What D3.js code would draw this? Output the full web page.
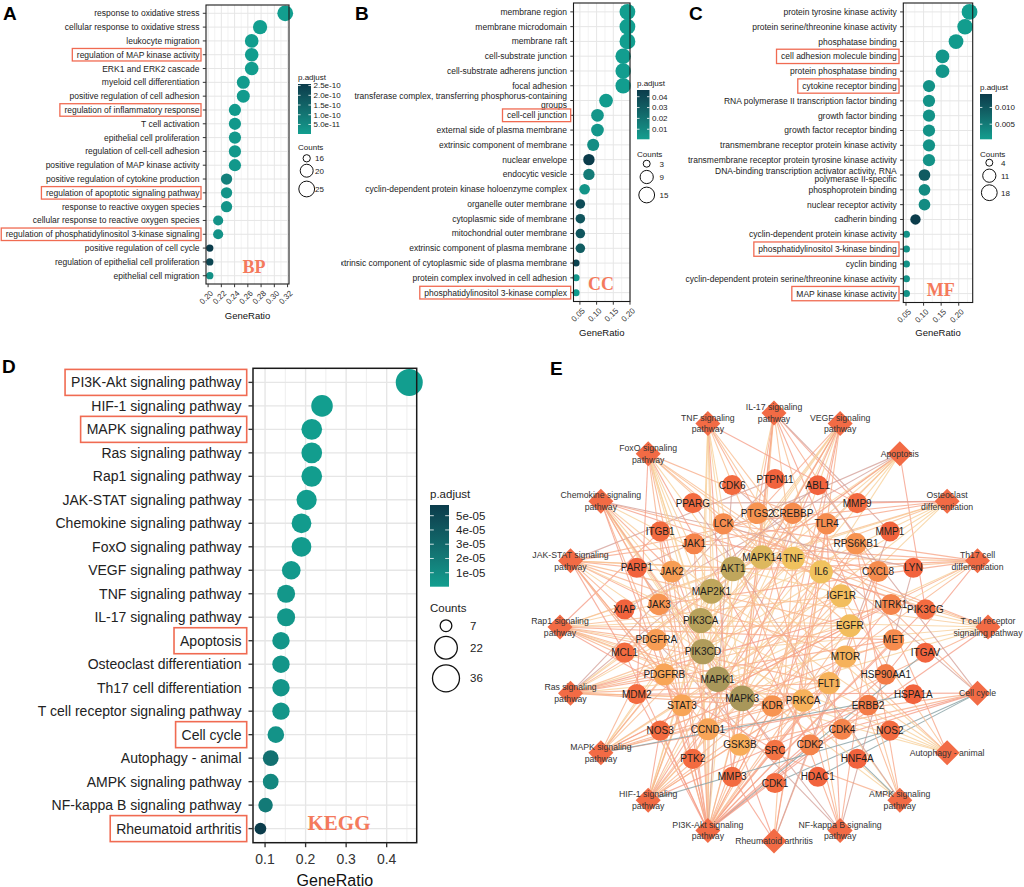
<!DOCTYPE html>
<html><head><meta charset="utf-8">
<script src="https://cdn.jsdelivr.net/npm/d3@7"></script>
<style>
body{margin:0;background:#fff}
svg{display:block}
</style></head>
<body><svg id="fig" width="1024" height="887" font-family="'Liberation Sans',Arial,Helvetica,sans-serif"></svg>
<script>
// ===================== DATA =====================
// BP
const bpTerms = ["response to oxidative stress","cellular response to oxidative stress","leukocyte migration","regulation of MAP kinase activity","ERK1 and ERK2 cascade","myeloid cell differentiation","positive regulation of cell adhesion","regulation of inflammatory response","T cell activation","epithelial cell proliferation","regulation of cell-cell adhesion","positive regulation of MAP kinase activity","positive regulation of cytokine production","regulation of apoptotic signaling pathway","response to reactive oxygen species","cellular response to reactive oxygen species","regulation of phosphatidylinositol 3-kinase signaling","positive regulation of cell cycle","regulation of epithelial cell proliferation","epithelial cell migration"];
const bpCounts = [25,22,21,21,21,20,20,19,19,19,19,19,18,18,18,17,17,16,16,16];
const bpPadj = [1e-12,2e-12,3e-12,3e-12,3e-12,8e-12,8e-12,1.2e-11,1.5e-11,1.5e-11,1.6e-11,1.6e-11,7.5e-11,2.5e-11,2.5e-11,3e-11,3e-11,2.58e-10,2.3e-10,3.5e-11];
const bpTotal = 79;
const bpBoxed = ["regulation of MAP kinase activity","regulation of inflammatory response","regulation of apoptotic signaling pathway","regulation of phosphatidylinositol 3-kinase signaling"];
const bpTicks = [0.20,0.22,0.24,0.26,0.28,0.30,0.32];
const bpPadjBreaks = [5e-11,1e-10,1.5e-10,2e-10,2.5e-10];
const bpCountBreaks = [16,20,25];

// CC
const ccTerms = ["membrane region","membrane microdomain","membrane raft","cell-substrate junction","cell-substrate adherens junction","focal adhesion","transferase complex, transferring phosphorus-containing groups","cell-cell junction","external side of plasma membrane","extrinsic component of membrane","nuclear envelope","endocytic vesicle","cyclin-dependent protein kinase holoenzyme complex","organelle outer membrane","cytoplasmic side of membrane","mitochondrial outer membrane","extrinsic component of plasma membrane","extrinsic component of cytoplasmic side of plasma membrane","protein complex involved in cell adhesion","phosphatidylinositol 3-kinase complex"];
const ccCounts = [15,15,15,14,14,14,10,8,8,7,6,6,5,4,4,4,4,3,3,3];
const ccPadj = [0.0007,0.0008,0.0008,0.001,0.001,0.001,0.002,0.004,0.004,0.008,0.0462,0.016,0.005,0.038,0.034,0.034,0.030,0.042,0.004,0.002];
const ccTotal = 78;
const ccBoxed = ["cell-cell junction","phosphatidylinositol 3-kinase complex"];
const ccTicks = [0.05,0.10,0.15,0.20];
const ccPadjBreaks = [0.01,0.02,0.03,0.04];
const ccCountBreaks = [3,9,15];

// MF
const mfTerms = ["protein tyrosine kinase activity","protein serine/threonine kinase activity","phosphatase binding","cell adhesion molecule binding","protein phosphatase binding","cytokine receptor binding","RNA polymerase II transcription factor binding","growth factor binding","growth factor receptor binding","transmembrane receptor protein kinase activity","transmembrane receptor protein tyrosine kinase activity","DNA-binding transcription activator activity, RNA polymerase II-specific","phosphoprotein binding","nuclear receptor activity","cadherin binding","cyclin-dependent protein kinase activity","phosphatidylinositol 3-kinase binding","cyclin binding","cyclin-dependent protein serine/threonine kinase activity","MAP kinase kinase activity"];
const mfCounts = [18,17,15,12,12,9,9,9,9,9,9,8,8,8,6,4,4,4,4,4];
const mfPadj = [0.0005,0.0006,0.001,0.0015,0.0015,0.002,0.002,0.002,0.002,0.002,0.002,0.0095,0.003,0.003,0.014,0.002,0.002,0.002,0.002,0.002];
const mfTotal = 78;
const mfBoxed = ["cell adhesion molecule binding","cytokine receptor binding","phosphatidylinositol 3-kinase binding","MAP kinase kinase activity"];
const mfTicks = [0.05,0.10,0.15,0.20];
const mfPadjBreaks = [0.005,0.010];
const mfCountBreaks = [4,11,18];

// KEGG
const keggTerms = ["PI3K-Akt signaling pathway","HIF-1 signaling pathway","MAPK signaling pathway","Ras signaling pathway","Rap1 signaling pathway","JAK-STAT signaling pathway","Chemokine signaling pathway","FoxO signaling pathway","VEGF signaling pathway","TNF signaling pathway","IL-17 signaling pathway","Apoptosis","Osteoclast differentiation","Th17 cell differentiation","T cell receptor signaling pathway","Cell cycle","Autophagy - animal","AMPK signaling pathway","NF-kappa B signaling pathway","Rheumatoid arthritis"];
const keggCounts = [36,19,17,17,17,16,15,15,13,12,12,11,11,11,11,10,9,9,8,7];
const keggPadj = [2e-7,3e-7,1e-6,1e-6,1e-6,1e-6,2e-6,2e-6,3e-6,4e-6,4e-6,5e-6,5e-6,5e-6,5e-6,6e-6,2.6e-5,1.3e-5,2e-5,5.75e-5];
const keggTotal = 79;
const keggBoxed = ["PI3K-Akt signaling pathway","MAPK signaling pathway","Apoptosis","Cell cycle","Rheumatoid arthritis"];
const keggTicks = [0.1,0.2,0.3,0.4];
const keggPadjBreaks = [1e-5,2e-5,3e-5,4e-5,5e-5];
const keggCountBreaks = [7,22,36];

// Network (E)
const pathways = ["IL-17 signaling pathway","VEGF signaling pathway","Apoptosis","Osteoclast differentiation","Th17 cell differentiation","T cell receptor signaling pathway","Cell cycle","Autophagy - animal","AMPK signaling pathway","NF-kappa B signaling pathway","Rheumatoid arthritis","PI3K-Akt signaling pathway","HIF-1 signaling pathway","MAPK signaling pathway","Ras signaling pathway","Rap1 signaling pathway","JAK-STAT signaling pathway","Chemokine signaling pathway","FoxO signaling pathway","TNF signaling pathway"];
const pathwayLabels = [["IL-17 signaling","pathway"],["VEGF signaling","pathway"],["Apoptosis"],["Osteoclast","differentiation"],["Th17 cell","differentiation"],["T cell receptor","signaling pathway"],["Cell cycle"],["Autophagy - animal"],["AMPK signaling","pathway"],["NF-kappa B signaling","pathway"],["Rheumatoid arthritis"],["PI3K-Akt signaling","pathway"],["HIF-1 signaling","pathway"],["MAPK signaling","pathway"],["Ras signaling","pathway"],["Rap1 signaling","pathway"],["JAK-STAT signaling","pathway"],["Chemokine signaling","pathway"],["FoxO signaling","pathway"],["TNF signaling","pathway"]];
const pathwayGenes = [
 ["MAPK1","MAPK3","MAPK14","TNF","IL6","CXCL8","PTGS2","MMP9","MMP3","MMP1","HSP90AA1","GSK3B"],
 ["AKT1","PIK3CA","PIK3CD","MAPK1","MAPK3","MAP2K1","MAPK14","KDR","PRKCA","PTGS2","NOS3","SRC","PTK2"],
 ["AKT1","PIK3CA","PIK3CD","MAPK1","MAPK3","MAP2K1","TNF","XIAP","MCL1","PARP1","PIK3CG"],
 ["AKT1","PIK3CA","PIK3CD","MAPK1","MAPK3","MAPK14","TNF","JAK1","LCK","PPARG","MMP9"],
 ["MAPK1","MAPK3","MAPK14","JAK1","JAK2","JAK3","STAT3","IL6","LCK","MTOR","HSP90AA1"],
 ["AKT1","PIK3CA","PIK3CD","MAPK1","MAPK3","MAP2K1","MAPK14","TNF","LCK","GSK3B","CDK4"],
 ["CDK1","CDK2","CDK4","CDK6","CCND1","GSK3B","HDAC1","CREBBP","ABL1","MDM2"],
 ["AKT1","PIK3CA","PIK3CD","MAPK1","MAPK3","MAP2K1","MTOR","RPS6KB1","IGF1R"],
 ["AKT1","PIK3CA","PIK3CD","MTOR","RPS6KB1","IGF1R","CCND1","PPARG","HNF4A"],
 ["TNF","CXCL8","PTGS2","XIAP","LYN","LCK","TLR4","PARP1"],
 ["TNF","IL6","CXCL8","MMP1","MMP3","TLR4","ITGB1"],
 ["AKT1","PIK3CA","PIK3CD","PIK3CG","MAPK1","MAPK3","MAP2K1","MTOR","EGFR","IGF1R","KDR","FLT1","PDGFRA","PDGFRB","MET","ERBB2","NTRK1","ITGB1","ITGAV","PTK2","JAK1","JAK2","JAK3","IL6","CCND1","CDK4","CDK6","CDK2","GSK3B","MCL1","MDM2","RPS6KB1","HSP90AA1","PRKCA","CREBBP","NOS3"],
 ["AKT1","PIK3CA","PIK3CD","MAPK1","MAPK3","MAP2K1","MTOR","EGFR","IGF1R","ERBB2","FLT1","IL6","STAT3","CREBBP","NOS2","NOS3","PRKCA","RPS6KB1","TLR4"],
 ["AKT1","MAPK1","MAPK3","MAP2K1","MAPK14","TNF","EGFR","IGF1R","KDR","FLT1","PDGFRA","PDGFRB","MET","ERBB2","NTRK1","PRKCA","HSPA1A"],
 ["AKT1","PIK3CA","PIK3CD","MAPK1","MAPK3","MAP2K1","EGFR","IGF1R","KDR","FLT1","PDGFRA","PDGFRB","MET","NTRK1","PRKCA","PTPN11","ABL1"],
 ["AKT1","PIK3CA","PIK3CD","MAPK1","MAPK3","MAP2K1","MAPK14","EGFR","IGF1R","KDR","FLT1","PDGFRA","PDGFRB","MET","PRKCA","ITGB1","SRC"],
 ["AKT1","PIK3CA","PIK3CD","MTOR","JAK1","JAK2","JAK3","STAT3","IL6","EGFR","PDGFRA","PDGFRB","CCND1","MCL1","PTPN11","CREBBP"],
 ["AKT1","PIK3CA","PIK3CD","PIK3CG","MAPK1","MAPK3","MAP2K1","JAK2","JAK3","STAT3","CXCL8","LYN","PTK2","GSK3B","SRC"],
 ["AKT1","PIK3CA","PIK3CD","MAPK1","MAPK3","MAP2K1","MAPK14","EGFR","IGF1R","CCND1","CDK2","MDM2","CREBBP","STAT3","IL6"],
 ["AKT1","PIK3CA","PIK3CD","MAPK1","MAPK3","MAPK14","TNF","IL6","PTGS2","MMP9","MMP3","MAP2K1"]
];
// concentric rings of genes (inner -> outer), ordered clockwise
const ringInner = ["TNF","IL6","IGF1R","EGFR","MTOR","FLT1","PRKCA","KDR","MAPK3","MAPK1","PIK3CD","PIK3CA","MAP2K1","AKT1","MAPK14"];
const ringInnerDegree = [19,19,18,18,16,16,16,12,29,29,28,27,26,26,22];
const ringMiddle = ["CREBBP","TLR4","RPS6KB1","CXCL8","NTRK1","MET","HSP90AA1","ERBB2","CDK4","CDK2","SRC","GSK3B","CCND1","STAT3","PDGFRB","PDGFRA","JAK3","JAK2","JAK1","LCK","PTGS2"];
const ringMiddleDegree = [11,11,12,11,10,11,9,9,10,10,8,15,14,14,14,13,12,13,10,11,12];
const ringOuter = ["PTPN11","ABL1","MMP9","MMP1","LYN","PIK3CG","ITGAV","HSPA1A","NOS2","HNF4A","HDAC1","CDK1","MMP3","PTK2","NOS3","MDM2","MCL1","XIAP","PARP1","ITGB1","PPARG","CDK6"];
const ringOuterDegree = [6,6,7,6,6,7,6,6,7,6,6,7,7,7,7,7,7,6,6,7,7,7];

// ===================== DRAWING =====================
const svg = d3.select("#fig");
const defs = svg.append("defs");
const lowCol = "#129e8f", highCol = "#0b3c4b";
const boxCol = "#f06b52", tagCol = "#f47a5c";

function wrapLabel(s, width) {
  const words = s.split(" "); const lines = []; let cur = "";
  words.forEach(w => {
    if (cur && (cur + " " + w).length > width) { lines.push(cur); cur = w; }
    else cur = cur ? cur + " " + w : w;
  });
  lines.push(cur); return lines;
}

function dotPlot(o) {
  const g = svg.append("g");
  if (o.clipLeft != null) {
    const id = "clip" + o.id;
    defs.append("clipPath").attr("id", id).append("rect")
      .attr("x", o.clipLeft).attr("y", 0).attr("width", 1024 - o.clipLeft).attr("height", 887);
    g.attr("clip-path", `url(#${id})`);
  }
  const ratios = o.counts.map(c => c / o.total);
  const [rmin, rmax] = d3.extent(ratios);
  const span = rmax - rmin;
  const x = d3.scaleLinear().domain([rmin - 0.05 * span, rmax + 0.05 * span]).range([o.x0, o.x1]);
  const y = d3.scalePoint().domain(o.terms).range([o.y0, o.y1]).padding(0.6);
  const [pmin, pmax] = d3.extent(o.padj);
  const col = d3.scaleLinear().domain([pmin, pmax]).range([lowCol, highCol]).interpolate(d3.interpolateLab);
  const [cmin, cmax] = d3.extent(o.counts);
  const rad = c => (o.dRange[0] + Math.sqrt((c - cmin) / (cmax - cmin)) * (o.dRange[1] - o.dRange[0])) / 2;

  g.append("rect").attr("x", o.x0).attr("y", o.y0).attr("width", o.x1 - o.x0).attr("height", o.y1 - o.y0).attr("fill", "#fff");
  const [d0, d1] = x.domain();
  const minorVals = [];
  for (let k = Math.ceil(d0 / o.minorStep - 1e-9); k * o.minorStep <= d1 + 1e-12; k++) minorVals.push(k * o.minorStep);
  const isMajor = v => o.ticks.some(t => Math.abs(t - v) < 1e-9);
  g.selectAll(null).data(minorVals.filter(v => !isMajor(v))).join("line")
    .attr("x1", d => x(d)).attr("x2", d => x(d)).attr("y1", o.y0).attr("y2", o.y1)
    .attr("stroke", "#eeeeee").attr("stroke-width", o.gridW * 0.7);
  g.selectAll(null).data(o.ticks).join("line")
    .attr("x1", d => x(d)).attr("x2", d => x(d)).attr("y1", o.y0).attr("y2", o.y1)
    .attr("stroke", "#e6e6e6").attr("stroke-width", o.gridW);
  g.selectAll(null).data(o.terms).join("line")
    .attr("x1", o.x0).attr("x2", o.x1).attr("y1", d => y(d)).attr("y2", d => y(d))
    .attr("stroke", "#e6e6e6").attr("stroke-width", o.gridW);

  g.selectAll(null).data(o.terms.map((t, i) => ({t, c: o.counts[i], p: o.padj[i], r: ratios[i]})))
    .join("circle")
    .attr("cx", d => x(d.r)).attr("cy", d => y(d.t)).attr("r", d => rad(d.c))
    .attr("fill", d => col(d.p));

  g.append("rect").attr("x", o.x0).attr("y", o.y0).attr("width", o.x1 - o.x0).attr("height", o.y1 - o.y0)
    .attr("fill", "none").attr("stroke", "#1a1a1a").attr("stroke-width", o.borderW);

  g.selectAll(null).data(o.terms).join("line")
    .attr("x1", o.x0 - o.tickLen).attr("x2", o.x0).attr("y1", d => y(d)).attr("y2", d => y(d))
    .attr("stroke", "#333").attr("stroke-width", o.borderW * 0.9);
  o.terms.forEach(t => {
    const lines = wrapLabel(t, 59);
    const txt = g.append("text").attr("text-anchor", "end").attr("font-size", o.labelFont).attr("fill", "#222");
    const lh = o.labelFont * 1.0;
    lines.forEach((ln, i) => {
      txt.append("tspan").attr("x", o.x0 - o.labelGap)
        .attr("y", y(t) + (i - (lines.length - 1) / 2) * lh + 0.35 * o.labelFont).text(ln);
    });
    if (o.boxed.includes(t)) {
      const w = d3.max(txt.selectAll("tspan").nodes(), n => n.getComputedTextLength());
      const left = o.x0 - o.labelGap - w - o.boxPad;
      const right = o.x0 - o.boxRightOff;
      g.append("rect").attr("x", left).attr("y", y(t) - o.boxH / 2).attr("width", right - left).attr("height", o.boxH)
        .attr("fill", "none").attr("stroke", boxCol).attr("stroke-width", o.boxW);
    }
  });

  g.selectAll(null).data(o.ticks).join("line")
    .attr("x1", d => x(d)).attr("x2", d => x(d)).attr("y1", o.y1).attr("y2", o.y1 + o.tickLen)
    .attr("stroke", "#333").attr("stroke-width", o.borderW * 0.9);
  const fmtT = d3.format(o.tickFmt);
  if (o.rotate) {
    g.selectAll(null).data(o.ticks).join("text")
      .attr("transform", d => `translate(${x(d) + 1.5},${o.y1 + o.tickLen + 2.5}) rotate(-45)`)
      .attr("text-anchor", "end").attr("dy", "0.72em").attr("font-size", o.tickFont).attr("fill", "#333")
      .text(d => fmtT(d));
  } else {
    g.selectAll(null).data(o.ticks).join("text")
      .attr("x", d => x(d)).attr("y", o.tickLabelY).attr("text-anchor", "middle")
      .attr("font-size", o.tickFont).attr("fill", "#333").text(d => fmtT(d));
  }
  g.append("text").attr("x", (o.x0 + o.x1) / 2).attr("y", o.titleY).attr("text-anchor", "middle")
    .attr("font-size", o.titleFont).attr("fill", "#111").text("GeneRatio");

  g.append("text").attr("x", o.tag.x).attr("y", o.tag.y).attr("text-anchor", "middle")
    .style("font-family", "'Liberation Serif','Times New Roman',Times,serif").attr("font-weight", "bold")
    .attr("font-size", o.tag.size).attr("fill", tagCol).text(o.tag.text);

  const L = o.leg;
  const lg = svg.append("g");
  lg.append("text").attr("x", L.x).attr("y", L.titleY).attr("font-size", L.font).attr("fill", "#222").text("p.adjust");
  const gid = "grad" + o.id;
  const grad = defs.append("linearGradient").attr("id", gid).attr("x1", 0).attr("x2", 0).attr("y1", 1).attr("y2", 0);
  d3.range(0, 1.0001, 0.1).forEach(t => grad.append("stop").attr("offset", t).attr("stop-color", col(pmin + t * (pmax - pmin))));
  lg.append("rect").attr("x", L.x).attr("y", L.barY0).attr("width", L.barW).attr("height", L.barY1 - L.barY0).attr("fill", `url(#${gid})`);
  const by = d3.scaleLinear().domain([pmin, pmax]).range([L.barY1, L.barY0]);
  o.padjBreaks.forEach(b => {
    const yy = by(b);
    lg.append("line").attr("x1", L.x).attr("x2", L.x + L.barW / 5).attr("y1", yy).attr("y2", yy).attr("stroke", "#fff").attr("stroke-width", 0.8);
    lg.append("line").attr("x1", L.x + L.barW * 4 / 5).attr("x2", L.x + L.barW).attr("y1", yy).attr("y2", yy).attr("stroke", "#fff").attr("stroke-width", 0.8);
    lg.append("text").attr("x", L.labelX).attr("y", yy + 0.35 * L.font).attr("font-size", L.font).attr("fill", "#222").text(o.padjFmt(b));
  });
  lg.append("text").attr("x", L.x).attr("y", L.countTitleY).attr("font-size", L.font).attr("fill", "#222").text("Counts");
  o.countBreaks.forEach((c, i) => {
    lg.append("circle").attr("cx", L.circleX).attr("cy", L.keyY[i]).attr("r", rad(c))
      .attr("fill", "#fff").attr("stroke", "#111").attr("stroke-width", L.circW);
    lg.append("text").attr("x", L.keyLabelX).attr("y", L.keyY[i] + 0.35 * L.font).attr("font-size", L.font).attr("fill", "#222").text(c);
  });
}

const expFmt1 = v => v.toExponential(1);
const expFmt0 = v => { const [m, e] = v.toExponential(0).split("e"); const n = Math.abs(+e); return m + "e" + (+e < 0 ? "-" : "+") + (n < 10 ? "0" + n : n); };

const smallCommon = {labelFont: 8.5, tickFont: 8, titleFont: 9.5, labelGap: 6.5, tickLen: 3.2, gridW: 1, borderW: 1.1, boxW: 1.3, rotate: true, tickFmt: ".2f"};

dotPlot(Object.assign({}, smallCommon, {
  id: "A", terms: bpTerms, counts: bpCounts, padj: bpPadj, total: bpTotal, boxed: bpBoxed,
  x0: 206, x1: 289, y0: 5, y1: 284, ticks: bpTicks, minorStep: 0.01, titleY: 318.5,
  dRange: [7.3, 15.8], boxH: 12.5, boxPad: 4.5, boxRightOff: 5,
  padjBreaks: bpPadjBreaks, padjFmt: expFmt1, countBreaks: bpCountBreaks,
  tag: {text: "BP", x: 254, y: 273, size: 18},
  leg: {x: 298, titleY: 79.5, font: 8, barY0: 84, barY1: 134, barW: 13, labelX: 313.5, countTitleY: 150, keyY: [158.3, 170.7, 189], circleX: 306.7, keyLabelX: 315, circW: 1}
}));
dotPlot(Object.assign({}, smallCommon, {
  id: "B", terms: ccTerms, counts: ccCounts, padj: ccPadj, total: ccTotal, boxed: ccBoxed, clipLeft: 341,
  x0: 573.5, x1: 630, y0: 3, y1: 301.5, ticks: ccTicks, minorStep: 0.025, titleY: 335.5,
  dRange: [7, 15.8], boxH: 12.7, boxPad: 4.5, boxRightOff: 2.8,
  padjBreaks: ccPadjBreaks, padjFmt: d3.format(".2f"), countBreaks: ccCountBreaks,
  tag: {text: "CC", x: 601, y: 290, size: 18},
  leg: {x: 637, titleY: 86, font: 8, barY0: 90, barY1: 139.3, barW: 12.5, labelX: 652, countTitleY: 156.5, keyY: [163.7, 177, 195], circleX: 646.7, keyLabelX: 659.5, circW: 1}
}));
dotPlot(Object.assign({}, smallCommon, {
  id: "C", terms: mfTerms, counts: mfCounts, padj: mfPadj, total: mfTotal, boxed: mfBoxed,
  x0: 903.3, x1: 972.7, y0: 3, y1: 302.5, ticks: mfTicks, minorStep: 0.025, titleY: 335.5,
  dRange: [7, 15.8], boxH: 14.3, boxPad: 4.5, boxRightOff: 4.3,
  padjBreaks: mfPadjBreaks, padjFmt: d3.format(".3f"), countBreaks: mfCountBreaks,
  tag: {text: "MF", x: 940.7, y: 295.5, size: 18},
  leg: {x: 980, titleY: 90, font: 8, barY0: 94, barY1: 139.3, barW: 12, labelX: 995, countTitleY: 156.5, keyY: [162.7, 175.7, 192.7], circleX: 989.3, keyLabelX: 1001, circW: 1}
}));
dotPlot({
  id: "D", terms: keggTerms, counts: keggCounts, padj: keggPadj, total: keggTotal, boxed: keggBoxed,
  labelFont: 14, tickFont: 14, titleFont: 16, labelGap: 11.5, tickLen: 4.5, gridW: 1.4, borderW: 1.5, boxW: 1.6,
  rotate: false, tickFmt: ".1f", tickLabelY: 864,
  x0: 253, x1: 416.7, y0: 368.3, y1: 842.7, ticks: keggTicks, minorStep: 0.05, titleY: 885.5,
  dRange: [11.7, 27], boxH: 26, boxPad: 6, boxRightOff: 6.3,
  padjBreaks: keggPadjBreaks, padjFmt: expFmt0, countBreaks: keggCountBreaks,
  tag: {text: "KEGG", x: 339, y: 829.5, size: 21},
  leg: {x: 430, titleY: 498, font: 11.5, barY0: 505, barY1: 586.7, barW: 19, labelX: 456, countTitleY: 612, keyY: [625.7, 647.7, 678.3], circleX: 446, keyLabelX: 470, circW: 1.3}
});

[["A", 3, 20], ["B", 355, 20], ["C", 689, 20], ["D", 2, 373], ["E", 550, 375]].forEach(([t, xx, yy]) => {
  svg.append("text").attr("x", xx).attr("y", yy).attr("font-size", 19).attr("font-weight", "bold").attr("fill", "#000").text(t);
});

// ===================== NETWORK =====================
const net = svg.append("g");
const pcx = 774, pcy = 627, pR = 214;
const gcx = 775, gcy = 631;
const pathPos = pathways.map((p, i) => {
  const a = (-90 + i * 360 / pathways.length) * Math.PI / 180;
  return {name: p, lines: pathwayLabels[i], x: pcx + pR * Math.cos(a), y: pcy + pR * Math.sin(a)};
});
const geneNodes = [];
function placeRing(names, degs, radius, startDeg) {
  names.forEach((n, i) => {
    const a = (startDeg + i * 360 / names.length) * Math.PI / 180;
    geneNodes.push({name: n, deg: degs[i], x: gcx + radius * Math.cos(a), y: gcy + radius * Math.sin(a)});
  });
}
placeRing(ringOuter, ringOuterDegree, 152, -90);
placeRing(ringMiddle, ringMiddleDegree, 119, -90 + 180 / ringMiddle.length);
placeRing(ringInner, ringInnerDegree, 75, -76);
const geneMap = new Map(geneNodes.map(d => [d.name, d]));

const membership = new Map();
pathwayGenes.forEach(list => list.forEach(gn => membership.set(gn, (membership.get(gn) || 0) + 1)));
const edges = [];
pathwayGenes.forEach((list, i) => list.forEach(gn => { if (geneMap.has(gn)) edges.push({s: pathPos[i], t: geneMap.get(gn), m: membership.get(gn)}); }));

const edgeCol = d3.scaleLinear().domain([0.06, 0.15, 0.34, 0.5, 1])
  .range(["#f8d39c", "#f9b48b", "#f59e8a", "#d5a39b", "#87a0a4"]).clamp(true);
net.selectAll(null).data(edges).join("line")
  .attr("x1", d => d.s.x).attr("y1", d => d.s.y).attr("x2", d => d.t.x).attr("y2", d => d.t.y)
  .attr("stroke", d => edgeCol(1 / d.m)).attr("stroke-opacity", 0.8).attr("stroke-width", 1.1);

const nodeCol = d3.scaleLinear().domain([6, 11, 15, 19, 23, 29])
  .range(["#f2633d", "#f68c4e", "#f8ad5a", "#f0c25e", "#d6b45e", "#a8975a"]).clamp(true);
const nodeR = d3.scaleLinear().domain([6, 29]).range([10, 12.8]);

net.selectAll(null).data(geneNodes).join("circle")
  .attr("cx", d => d.x).attr("cy", d => d.y).attr("r", d => nodeR(d.deg)).attr("fill", d => nodeCol(d.deg));
const dia = 12.5;
net.selectAll(null).data(pathPos).join("path")
  .attr("d", d => `M${d.x},${d.y - dia}L${d.x + dia},${d.y}L${d.x},${d.y + dia}L${d.x - dia},${d.y}Z`)
  .attr("fill", "#f26b45");

net.selectAll(null).data(geneNodes).join("text")
  .attr("x", d => d.x).attr("y", d => d.y + 3.5).attr("text-anchor", "middle")
  .attr("font-size", 10).attr("fill", "#1e1e1e").text(d => d.name);
pathPos.forEach(p => {
  const t = net.append("text").attr("text-anchor", "middle").attr("font-size", 8.7).attr("fill", "#333");
  p.lines.forEach((ln, i) => {
    t.append("tspan").attr("x", p.x).attr("y", p.y + (i - (p.lines.length - 1) / 2) * 11.5 + 3).text(ln);
  });
});
</script>
</body></html>
